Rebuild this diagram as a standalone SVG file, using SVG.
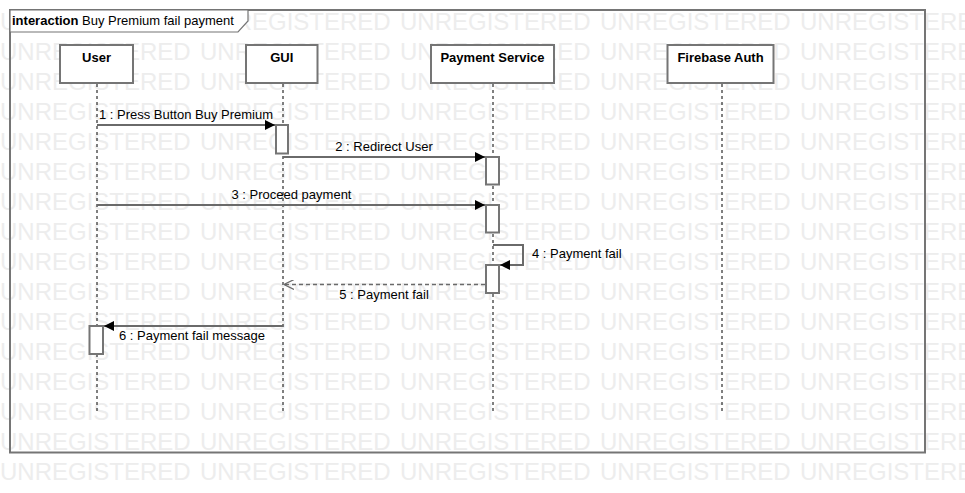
<svg xmlns="http://www.w3.org/2000/svg" width="965" height="493" viewBox="0 0 965 493">
<defs>
<style>
.wm{font-family:"Liberation Sans",Arial,sans-serif;font-size:24px;fill:#ededed}
.frame{fill:none;stroke:#757575;stroke-width:2}
.box{fill:#fff;stroke:#757575;stroke-width:2}
.act{fill:#fff;stroke:#757575;stroke-width:2}
.life{stroke:#000;stroke-width:1;stroke-dasharray:3,3;fill:none}
.msg{stroke:#6a6a6a;stroke-width:2;fill:none}
.ret{stroke:#6a6a6a;stroke-width:1.5;fill:none;stroke-dasharray:4,3}
.nm{font-family:"Liberation Sans",Arial,sans-serif;font-size:13px;font-weight:bold;fill:#000;text-anchor:middle}
.lb{font-family:"Liberation Sans",Arial,sans-serif;font-size:13px;fill:#000}
</style>
<marker id="fill" viewBox="0 0 10 10" refX="10" refY="5" markerWidth="11" markerHeight="10" markerUnits="userSpaceOnUse" orient="auto">
<path d="M0,0 L10,5 L0,10 Z" fill="#000"/>
</marker>
<marker id="open" viewBox="0 0 10 10" refX="10" refY="5" markerWidth="10" markerHeight="10" markerUnits="userSpaceOnUse" orient="auto">
<path d="M0,0 L10,5 L0,10" fill="none" stroke="#6a6a6a" stroke-width="1.2"/>
</marker>
</defs>
<rect width="965" height="493" fill="#fff"/>
<g id="watermark" class="wm">
<text y="29.5"><tspan x="0">UNREGISTERED</tspan><tspan x="200">UNREGISTERED</tspan><tspan x="400">UNREGISTERED</tspan><tspan x="600">UNREGISTERED</tspan><tspan x="800">UNREGISTERED</tspan></text>
<text y="59.5"><tspan x="0">UNREGISTERED</tspan><tspan x="200">UNREGISTERED</tspan><tspan x="400">UNREGISTERED</tspan><tspan x="600">UNREGISTERED</tspan><tspan x="800">UNREGISTERED</tspan></text>
<text y="89.5"><tspan x="0">UNREGISTERED</tspan><tspan x="200">UNREGISTERED</tspan><tspan x="400">UNREGISTERED</tspan><tspan x="600">UNREGISTERED</tspan><tspan x="800">UNREGISTERED</tspan></text>
<text y="119.5"><tspan x="0">UNREGISTERED</tspan><tspan x="200">UNREGISTERED</tspan><tspan x="400">UNREGISTERED</tspan><tspan x="600">UNREGISTERED</tspan><tspan x="800">UNREGISTERED</tspan></text>
<text y="149.5"><tspan x="0">UNREGISTERED</tspan><tspan x="200">UNREGISTERED</tspan><tspan x="400">UNREGISTERED</tspan><tspan x="600">UNREGISTERED</tspan><tspan x="800">UNREGISTERED</tspan></text>
<text y="179.5"><tspan x="0">UNREGISTERED</tspan><tspan x="200">UNREGISTERED</tspan><tspan x="400">UNREGISTERED</tspan><tspan x="600">UNREGISTERED</tspan><tspan x="800">UNREGISTERED</tspan></text>
<text y="209.5"><tspan x="0">UNREGISTERED</tspan><tspan x="200">UNREGISTERED</tspan><tspan x="400">UNREGISTERED</tspan><tspan x="600">UNREGISTERED</tspan><tspan x="800">UNREGISTERED</tspan></text>
<text y="239.5"><tspan x="0">UNREGISTERED</tspan><tspan x="200">UNREGISTERED</tspan><tspan x="400">UNREGISTERED</tspan><tspan x="600">UNREGISTERED</tspan><tspan x="800">UNREGISTERED</tspan></text>
<text y="269.5"><tspan x="0">UNREGISTERED</tspan><tspan x="200">UNREGISTERED</tspan><tspan x="400">UNREGISTERED</tspan><tspan x="600">UNREGISTERED</tspan><tspan x="800">UNREGISTERED</tspan></text>
<text y="299.5"><tspan x="0">UNREGISTERED</tspan><tspan x="200">UNREGISTERED</tspan><tspan x="400">UNREGISTERED</tspan><tspan x="600">UNREGISTERED</tspan><tspan x="800">UNREGISTERED</tspan></text>
<text y="329.5"><tspan x="0">UNREGISTERED</tspan><tspan x="200">UNREGISTERED</tspan><tspan x="400">UNREGISTERED</tspan><tspan x="600">UNREGISTERED</tspan><tspan x="800">UNREGISTERED</tspan></text>
<text y="359.5"><tspan x="0">UNREGISTERED</tspan><tspan x="200">UNREGISTERED</tspan><tspan x="400">UNREGISTERED</tspan><tspan x="600">UNREGISTERED</tspan><tspan x="800">UNREGISTERED</tspan></text>
<text y="389.5"><tspan x="0">UNREGISTERED</tspan><tspan x="200">UNREGISTERED</tspan><tspan x="400">UNREGISTERED</tspan><tspan x="600">UNREGISTERED</tspan><tspan x="800">UNREGISTERED</tspan></text>
<text y="419.5"><tspan x="0">UNREGISTERED</tspan><tspan x="200">UNREGISTERED</tspan><tspan x="400">UNREGISTERED</tspan><tspan x="600">UNREGISTERED</tspan><tspan x="800">UNREGISTERED</tspan></text>
<text y="449.5"><tspan x="0">UNREGISTERED</tspan><tspan x="200">UNREGISTERED</tspan><tspan x="400">UNREGISTERED</tspan><tspan x="600">UNREGISTERED</tspan><tspan x="800">UNREGISTERED</tspan></text>
<text y="479.5"><tspan x="0">UNREGISTERED</tspan><tspan x="200">UNREGISTERED</tspan><tspan x="400">UNREGISTERED</tspan><tspan x="600">UNREGISTERED</tspan><tspan x="800">UNREGISTERED</tspan></text>
</g>
<g id="frame">
<rect class="frame" x="10" y="10" width="915" height="442.5"/>
<path d="M10,10 L248,10 L248,21 L238,32 L10,32 Z" fill="#fff" stroke="#757575" stroke-width="1.2"/>
<text class="lb" x="12" y="25"><tspan font-weight="bold">interaction</tspan> Buy Premium fail payment</text>
</g>
<g id="lifelines">
<line class="life" x1="97" y1="84" x2="97" y2="412"/>
<line class="life" x1="283" y1="84" x2="283" y2="412"/>
<line class="life" x1="493" y1="84" x2="493" y2="412"/>
<line class="life" x1="722" y1="84" x2="722" y2="412"/>
</g>
<g id="node-user">
<rect class="box" x="60" y="45" width="73" height="38"/>
<text class="nm" x="96.5" y="62">User</text>
</g>
<g id="node-gui">
<rect class="box" x="246" y="45" width="71.5" height="38"/>
<text class="nm" x="281.7" y="62">GUI</text>
</g>
<g id="node-payment">
<rect class="box" x="431" y="45" width="123" height="38"/>
<text class="nm" x="492.5" y="62">Payment Service</text>
</g>
<g id="node-firebase">
<rect class="box" x="667.5" y="45" width="106" height="38"/>
<text class="nm" x="720.5" y="62">Firebase Auth</text>
</g>
<g id="activations">
<rect class="act" x="276" y="125" width="12" height="28.5"/>
<rect class="act" x="486" y="157" width="13" height="27.5"/>
<rect class="act" x="486" y="205" width="13" height="27.5"/>
<rect class="act" x="486" y="265" width="13" height="28"/>
<rect class="act" x="89.5" y="326" width="13.5" height="28"/>
</g>
<g id="connectors">
<line class="msg" x1="97" y1="125" x2="275" y2="125" marker-end="url(#fill)"/>
<text class="lb" x="186" y="119" text-anchor="middle">1 : Press Button Buy Premium</text>
<line class="msg" x1="283" y1="157" x2="485" y2="157" marker-end="url(#fill)"/>
<text class="lb" x="384" y="150.5" text-anchor="middle">2 : Redirect User</text>
<line class="msg" x1="97" y1="205" x2="485" y2="205" marker-end="url(#fill)"/>
<text class="lb" x="291.5" y="198.5" text-anchor="middle">3 : Proceed payment</text>
<polyline class="msg" points="493,245 523,245 523,265 500,265" marker-end="url(#fill)"/>
<text class="lb" x="532" y="258">4 : Payment fail</text>
<line class="ret" x1="485" y1="284.5" x2="284" y2="284.5" marker-end="url(#open)"/>
<text class="lb" x="384" y="299" text-anchor="middle">5 : Payment fail</text>
<line class="msg" x1="283" y1="326" x2="104" y2="326" marker-end="url(#fill)"/>
<text class="lb" x="119" y="340">6 : Payment fail message</text>
</g>
</svg>
